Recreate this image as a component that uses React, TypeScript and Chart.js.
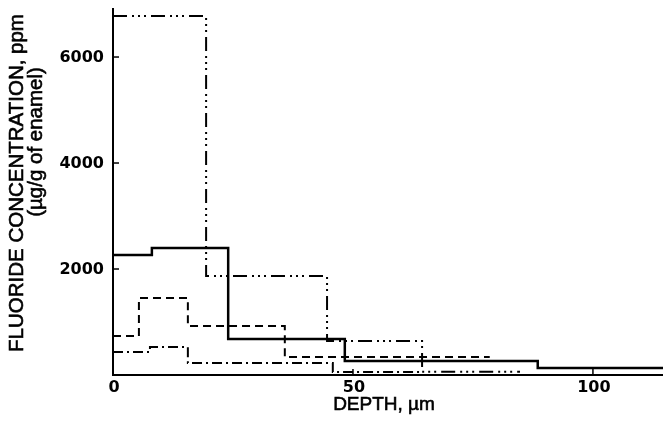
import React, { useEffect, useRef } from "react";
import { Chart, registerables } from "chart.js";

Chart.register(...registerables);

// Step profiles: depth (µm) where each step begins, and its concentration (ppm)
const solidDepth = [0, 8.1, 24, 48.3, 88.5, 115];
const solidPpm = [2264, 2396, 679, 264, 132, 132];

const dashedDepth = [0, 5.4, 15.6, 35.8, 78.5];
const dashedPpm = [736, 1453, 925, 340, 340];

const dashDotDepth = [0, 7.7, 15.6, 45.8, 64.4];
const dashDotPpm = [434, 528, 226, 57, 57];

const dashDotDotDepth = [0, 19.4, 44.6, 64.4, 84.8];
const dashDotDotPpm = [6774, 1868, 642, 60, 60];

const xTicks = [0, 50, 100];
const yTicks = [2000, 4000, 6000];

const xTitle = "DEPTH, \u00b5m";
const yTitle1 = "FLUORIDE CONCENTRATION, ppm";
const yTitle2 = "(\u00b5g/g of enamel)";

const pts = (xs: number[], ys: number[]) => xs.map((x, i) => ({ x, y: ys[i] }));

export default function App() {
  const ref = useRef<HTMLCanvasElement | null>(null);
  useEffect(() => {
    document.body.style.margin = "0";
    const canvas = ref.current!;
    const axesPlugin = {
      id: "axesPlugin",
      afterDraw(chart: any) {
        const { ctx, chartArea } = chart;
        const xs = chart.scales.x;
        const ys = chart.scales.y;
        ctx.save();
        ctx.strokeStyle = "#000";
        ctx.fillStyle = "#000";
        ctx.lineWidth = 2;
        ctx.setLineDash([]);
        ctx.beginPath();
        ctx.moveTo(chartArea.left, chartArea.top);
        ctx.lineTo(chartArea.left, chartArea.bottom);
        ctx.lineTo(chartArea.right, chartArea.bottom);
        ctx.stroke();
        // inward ticks
        ctx.lineWidth = 1.5;
        yTicks.forEach((v) => {
          const py = ys.getPixelForValue(v);
          ctx.beginPath();
          ctx.moveTo(chartArea.left, py);
          ctx.lineTo(chartArea.left + 6, py);
          ctx.stroke();
        });
        xTicks.forEach((v) => {
          if (v === 0) return;
          const px = xs.getPixelForValue(v);
          ctx.beginPath();
          ctx.moveTo(px, chartArea.bottom);
          ctx.lineTo(px, chartArea.bottom - 6);
          ctx.stroke();
        });
        // tick labels
        ctx.font = "bold 16px 'DejaVu Sans'";
        ctx.textBaseline = "middle";
        ctx.textAlign = "right";
        yTicks.forEach((v) => {
          ctx.fillText(String(v), chartArea.left - 9, ys.getPixelForValue(v) + 1);
        });
        ctx.textAlign = "center";
        xTicks.forEach((v) => {
          ctx.fillText(String(v), xs.getPixelForValue(v) + 1, chartArea.bottom + 13);
        });
        // titles
        ctx.font = "19px 'Liberation Sans'";
        ctx.lineWidth = 0.6;
        ctx.fillText(xTitle, 384, 405);
        ctx.strokeText(xTitle, 384, 405);
        ctx.font = "20.5px 'Liberation Sans'";
        ctx.save();
        ctx.translate(17, 183);
        ctx.rotate(-Math.PI / 2);
        ctx.fillText(yTitle1, 0, 0);
        ctx.strokeText(yTitle1, 0, 0);
        ctx.restore();
        ctx.save();
        ctx.translate(36, 142);
        ctx.rotate(-Math.PI / 2);
        ctx.fillText(yTitle2, 0, 0);
        ctx.strokeText(yTitle2, 0, 0);
        ctx.restore();
        ctx.restore();
      },
    };
    const common = {
      stepped: "before" as const,
      borderColor: "#000",
      pointRadius: 0,
      fill: false,
    };
    const chart = new Chart(canvas, {
      type: "line",
      data: {
        datasets: [
          { ...common, label: "solid", data: pts(solidDepth, solidPpm), borderWidth: 2.5 },
          { ...common, label: "dashed", data: pts(dashedDepth, dashedPpm), borderWidth: 2, borderDash: [8, 5] },
          { ...common, label: "dash-dot", data: pts(dashDotDepth, dashDotPpm), borderWidth: 2, borderDash: [10, 4, 2, 4] },
          {
            ...common,
            label: "dash-dot-dot",
            data: pts(dashDotDotDepth, dashDotDotPpm),
            borderWidth: 2,
            borderDash: [14, 5, 2, 4, 2, 4, 2, 5],
          },
        ],
      },
      options: {
        animation: false,
        responsive: false,
        maintainAspectRatio: false,
        layout: { padding: { left: 113, right: 0, top: 8, bottom: 46 } },
        plugins: { legend: { display: false }, tooltip: { enabled: false } },
        scales: {
          x: { type: "linear", min: 0, max: 114.6, display: false },
          y: { type: "linear", min: 0, max: 6925, display: false },
        },
      },
      plugins: [axesPlugin],
    });
    return () => chart.destroy();
  }, []);
  return (
    <div style={{ width: 663, height: 421, background: "#fff" }}>
      <canvas ref={ref} width={663} height={421} style={{ display: "block" }} />
    </div>
  );
}
